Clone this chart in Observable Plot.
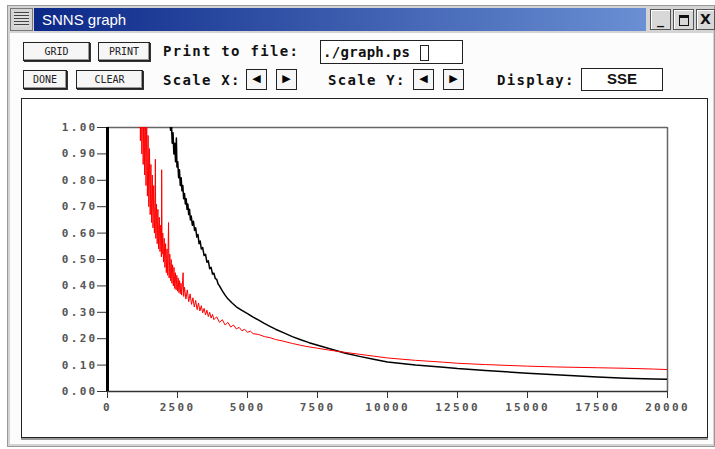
<!DOCTYPE html>
<html><head><meta charset="utf-8">
<script src="https://cdn.jsdelivr.net/npm/d3@7"></script>
<script src="https://cdn.jsdelivr.net/npm/@observablehq/plot@0.6"></script>
<style>
body{margin:0;width:715px;height:449px;background:#fff;position:relative;overflow:hidden;}
.a{position:absolute;box-sizing:border-box;}
.frame{left:7px;top:5px;width:708px;height:442px;background:#d4d4d4;border:1px solid #999;}
.menu{left:10px;top:8px;width:23px;height:23px;border:1px solid #777;background:repeating-linear-gradient(#444 0 1px,#ddd 1px 3px);background-clip:content-box;padding:3px 3px;}
.title{left:34px;top:8px;width:612px;height:23px;background:linear-gradient(to right,#0c2888,#6a8fd3);color:#fff;font:15px "Liberation Sans",Arial,sans-serif;line-height:23px;padding-left:8px;}
.wb{top:9px;width:21px;height:21px;background:#d8d8d8;border:1px solid #555;box-shadow:inset 1px 1px #fff;font:bold 14px "DejaVu Sans",sans-serif;text-align:center;line-height:19px;color:#111;}
.client{left:10px;top:33px;width:703px;height:411px;background:#fcfcfc;}
.btn{height:19px;border:1px solid #222;box-shadow:1px 1px 0 #333, inset -1px -1px #999;background:#f6f6f6;font:10px "DejaVu Sans Mono",monospace;text-align:center;line-height:17px;color:#222;}
.lab{font:bold 14px "DejaVu Sans Mono",monospace;letter-spacing:1.3px;color:#111;line-height:20px;}
.arr{top:69px;width:21px;height:21px;border:1.5px solid #222;background:#f6f6f6;font:11px "DejaVu Sans",sans-serif;text-align:center;line-height:18px;color:#000;}
.panel{left:21px;top:98px;width:687px;height:340px;border:1px solid #222;background:#fff;box-shadow:0 2px 0 #999;}
</style></head>
<body>
<div class="a frame"></div>
<div class="a menu"></div>
<div class="a title">SNNS graph</div>
<div class="a wb" style="left:650px">_</div>
<div class="a wb" style="left:673px"><div style="margin:5px auto 0;width:8px;height:7px;border:1.5px solid #111;border-top-width:3px"></div></div>
<div class="a wb" style="left:696px;width:19px">X</div>
<div class="a client"></div>

<div class="a btn" style="left:23px;top:42px;width:67px">GRID</div>
<div class="a btn" style="left:98px;top:42px;width:52px">PRINT</div>
<div class="a lab" style="left:163px;top:41px">Print to file:</div>
<div class="a" style="left:320px;top:40px;width:143px;height:24px;border:1px solid #222;background:#fff;"></div>
<div class="a lab" style="left:323px;top:42px;letter-spacing:0.3px">./graph.ps</div>
<div class="a" style="left:420px;top:45px;width:9px;height:16px;border:1px solid #222;"></div>

<div class="a btn" style="left:23px;top:70px;width:44px">DONE</div>
<div class="a btn" style="left:76px;top:70px;width:67px">CLEAR</div>
<div class="a lab" style="left:163px;top:70px">Scale X:</div>
<div class="a arr" style="left:246px">◀</div>
<div class="a arr" style="left:276px">▶</div>
<div class="a lab" style="left:328px;top:70px">Scale Y:</div>
<div class="a arr" style="left:413px">◀</div>
<div class="a arr" style="left:443px">▶</div>
<div class="a lab" style="left:497px;top:70px">Display:</div>
<div class="a" style="left:581px;top:68px;width:82px;height:23px;border:1.5px solid #222;background:#fff;font:bold 15px 'Liberation Sans',Arial,sans-serif;text-align:center;line-height:20px;color:#111;">SSE</div>

<div class="a panel"></div>
<div class="a" id="chart" style="left:22px;top:99px;"></div>

<script>
const xTicks = [0, 2500, 5000, 7500, 10000, 12500, 15000, 17500, 20000];
const yTicks = [0, 0.1, 0.2, 0.3, 0.4, 0.5, 0.6, 0.7, 0.8, 0.9, 1.0];

// red run (noisy, fast start)
const redEpoch = [900,925,950,975,1000,1025,1050,1075,1100,1125,1150,1175,1200,1225,1250,1275,1300,1325,1350,1375,1400,1425,1450,1475,1500,1525,1550,1575,1600,1625,1650,1675,1700,1710,1725,1750,1775,1800,1825,1850,1875,1900,1925,1935,1950,1975,2000,2025,2050,2075,2100,2125,2150,2180,2200,2225,2250,2275,2300,2325,2350,2375,2400,2425,2450,2475,2500,2525,2550,2575,2600,2625,2650,2700,2720,2750,2800,2850,2900,2950,3000,3050,3100,3150,3200,3250,3300,3350,3400,3450,3500,3550,3600,3650,3700,3750,3800,3900,4000,4100,4200,4300,4400,4500,4600,4700,4800,4900,5000,5100,5200,5400,5600,5800,6000,6300,6600,6900,7200,7500,7900,8500,9000,9500,10000,11000,12000,12500,13500,15000,16000,17500,18500,19500,20000];
const redSSE = [1.7,1.35,1.65,1.25,1.55,1.15,1.5,1.08,1.4,1.0,1.33,0.95,1.26,0.9,1.2,0.86,1.15,0.82,1.08,0.78,1.02,0.74,0.97,0.7,0.92,0.67,0.86,0.64,0.82,0.62,0.78,0.6,0.75,0.88,0.58,0.71,0.56,0.69,0.54,0.66,0.53,0.63,0.51,0.84,0.52,0.6,0.49,0.58,0.47,0.56,0.45,0.54,0.44,0.64,0.43,0.52,0.42,0.5,0.41,0.48,0.4,0.47,0.39,0.45,0.385,0.44,0.38,0.43,0.375,0.42,0.37,0.41,0.365,0.45,0.36,0.395,0.35,0.385,0.34,0.37,0.33,0.355,0.32,0.345,0.31,0.335,0.305,0.325,0.298,0.315,0.29,0.308,0.284,0.3,0.278,0.292,0.272,0.283,0.262,0.272,0.252,0.262,0.244,0.252,0.237,0.243,0.23,0.236,0.224,0.229,0.219,0.216,0.208,0.204,0.197,0.19,0.182,0.175,0.169,0.164,0.157,0.148,0.141,0.134,0.127,0.118,0.111,0.107,0.102,0.096,0.093,0.09,0.088,0.085,0.083];

// black run (slower start, lower final error)
const blackEpoch = [2100,2130,2160,2190,2220,2250,2280,2310,2340,2370,2400,2430,2460,2480,2510,2540,2570,2600,2630,2660,2690,2720,2750,2780,2810,2840,2870,2900,2930,2960,2990,3030,3070,3110,3150,3190,3230,3270,3310,3350,3400,3450,3500,3550,3600,3650,3700,3750,3800,3850,3900,3950,4000,4100,4200,4300,4450,4600,4800,5000,5200,5400,5600,5800,6000,6300,6600,6900,7200,7600,8000,8500,9000,9500,10000,11000,12000,12500,13500,15000,16000,17500,18500,19500,20000];
const blackSSE = [1.25,1.14,1.18,1.07,1.1,0.99,1.03,0.94,0.98,0.9,0.94,0.87,0.96,0.85,0.87,0.81,0.84,0.78,0.81,0.76,0.78,0.73,0.75,0.71,0.73,0.69,0.71,0.67,0.69,0.65,0.665,0.63,0.645,0.61,0.62,0.585,0.595,0.56,0.57,0.54,0.545,0.515,0.52,0.49,0.495,0.465,0.47,0.445,0.448,0.428,0.425,0.407,0.4,0.381,0.365,0.351,0.335,0.321,0.307,0.295,0.282,0.27,0.258,0.247,0.236,0.222,0.208,0.196,0.185,0.172,0.16,0.145,0.133,0.122,0.112,0.1,0.092,0.087,0.08,0.069,0.063,0.055,0.05,0.047,0.046];

const red = redEpoch.map((e, i) => ({epoch: e, sse: redSSE[i]}));
const black = blackEpoch.map((e, i) => ({epoch: e, sse: blackSSE[i]}));

const chart = Plot.plot({
  width: 685, height: 337,
  marginLeft: 85, marginRight: 40, marginTop: 28, marginBottom: 45,
  style: {background: "transparent", fontFamily: "DejaVu Sans Mono", fontSize: "11px", fontWeight: "bold", color: "#555", letterSpacing: "2.3px", overflow: "visible"},
  x: {domain: [0, 20000]},
  y: {domain: [0, 1]},
  marks: [
    Plot.axisX(xTicks, {tickFormat: d => String(d), tickSize: 7, tickPadding: 5, label: null, stroke: "#333"}),
    Plot.axisY(yTicks, {tickFormat: d => d.toFixed(2), tickSize: 10, tickPadding: 0, label: null, stroke: "#333"}),
    Plot.ruleY([1], {stroke: "#666", strokeWidth: 1.5}),
    Plot.ruleX([20000], {stroke: "#666", strokeWidth: 1.5}),
    Plot.line(black, {x: "epoch", y: "sse", stroke: "#000", strokeWidth: 1.5, clip: true}),
    Plot.line(red, {x: "epoch", y: "sse", stroke: "#ff0000", strokeWidth: 1, clip: true}),
    Plot.ruleX([0], {stroke: "#000", strokeWidth: 3}),
    Plot.ruleY([0], {stroke: "#333", strokeWidth: 1.5})
  ]
});
document.getElementById("chart").appendChild(chart);
</script>
</body></html>
